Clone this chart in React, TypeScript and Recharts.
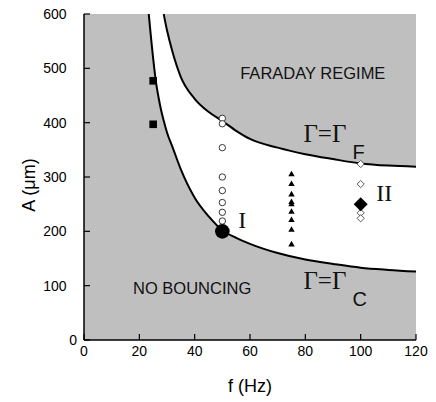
import {
  ComposedChart,
  XAxis,
  YAxis,
  CartesianGrid,
  Area,
  Line,
  Scatter,
  ReferenceDot,
  Label,
} from 'recharts'

// threshold curves (f in Hz, A in µm)
const freqs = [23.4, 25, 26, 27, 28, 28.8, 30, 32, 35, 40, 45, 50, 55, 60, 70, 80, 90, 100, 110, 120]
const bouncingThreshold = [600, 518, 475, 445, 420, 404, 382, 355, 314, 262, 228, 202, 188, 177, 160, 148, 140, 133, 129, 126]
const faradayThreshold = [null, null, null, null, null, 600, 570, 530, 484, 444, 420, 403, 385, 370, 354, 342, 333, 325, 321, 319]

const xTicks = [0, 20, 40, 60, 80, 100, 120]
const yTicks = [0, 100, 200, 300, 400, 500, 600]

// measured points
const squareA = [477, 397]
const circleA = [408, 398, 354, 300, 275, 253, 235, 219]
const triangleA = [306, 288, 269, 255, 251, 237, 222, 204, 177]
const diamondA = [324, 287, 234, 224]
const pointI = { f: 50, A: 200 }
const pointII = { f: 100, A: 250 }

const rows = freqs.map((f, i) => ({
  f,
  lower: bouncingThreshold[i],
  upper: faradayThreshold[i],
}))

const squares = squareA.map(A => ({ f: 25, A }))
const circles = circleA.map(A => ({ f: 50, A }))
const triangles = triangleA.map(A => ({ f: 75, A }))
const diamonds = diamondA.map(A => ({ f: 100, A }))

const SANS = '"Liberation Sans", Arial, Helvetica, sans-serif'
const SERIF = '"Liberation Serif", "Times New Roman", serif'
const TICK = 6

function BottomTick({ x, y, payload }: any) {
  return (
    <g>
      <line x1={x} x2={x} y1={y} y2={y - TICK} stroke="#000" strokeWidth={1.2} />
      <text x={x} y={y + 16} textAnchor="middle" fontSize={14} fontFamily={SANS} fill="#000">
        {payload.value}
      </text>
    </g>
  )
}

function LeftTick({ x, y, payload }: any) {
  // the original puts the lone "0" closer to the axis
  const gap = payload.value === 0 ? 7 : 17.5
  return (
    <g>
      <line x1={x} x2={x + TICK} y1={y} y2={y} stroke="#000" strokeWidth={1.2} />
      <text x={x - gap} y={y + 5} textAnchor="end" fontSize={14} fontFamily={SANS} fill="#000">
        {payload.value}
      </text>
    </g>
  )
}

function TopTick({ x, y }: any) {
  return <line x1={x} x2={x} y1={y} y2={y + TICK} stroke="#000" strokeWidth={1.2} />
}

function RightTick({ x, y }: any) {
  return <line x1={x} x2={x - TICK} y1={y} y2={y} stroke="#000" strokeWidth={1.2} />
}

const square = ({ cx, cy }: any) => (
  <rect x={cx - 3.8} y={cy - 3.8} width={7.6} height={7.6} fill="#000" />
)
const openCircle = ({ cx, cy }: any) => (
  <circle cx={cx} cy={cy} r={3.2} fill="#fff" stroke="#222" strokeWidth={0.9} />
)
const triangle = ({ cx, cy }: any) => (
  <path d={`M${cx - 3.2},${cy + 2.6}L${cx + 3.2},${cy + 2.6}L${cx},${cy - 3}Z`} fill="#000" />
)
const openDiamond = ({ cx, cy }: any) => (
  <path d={`M${cx},${cy - 3.6}L${cx + 3.6},${cy}L${cx},${cy + 3.6}L${cx - 3.6},${cy}Z`} fill="#fff" stroke="#333" strokeWidth={0.8} />
)
const bigDot = ({ cx, cy }: any) => <circle cx={cx} cy={cy} r={7.3} fill="#000" />
const bigDiamond = ({ cx, cy }: any) => (
  <path d={`M${cx},${cy - 7}L${cx + 7},${cy}L${cx},${cy + 7}L${cx - 7},${cy}Z`} fill="#000" />
)

const plainText = (txt: string) => ({ cx, cy }: any) => (
  <text x={cx} y={cy} textAnchor="middle" dominantBaseline="central" fontSize={16.5} fontFamily={SANS} fill="#111">
    {txt}
  </text>
)

const gammaText = (sub: string, dy: number) => ({ cx, cy }: any) => (
  <text x={cx} y={cy} fontSize={25} fontFamily={SERIF} fill="#111">
    Γ=Γ
    <tspan dx={6} dy={dy} fontSize={20} fontFamily={'"Liberation Sans Narrow", ' + SANS}>
      {sub}
    </tspan>
  </text>
)

const romanText = (txt: string) => ({ cx, cy }: any) => (
  <text x={cx} y={cy} textAnchor="middle" fontSize={24} fontFamily={SERIF} fill="#111">
    {txt}
  </text>
)

const yLabel = () => (
  <text transform="translate(35,185) rotate(-90)" textAnchor="middle" fontSize={18} fontFamily={SANS} fill="#000">
    A (μm)
  </text>
)

export default function App() {
  return (
    <div style={{ position: 'absolute', left: 0, top: 0, width: 436, height: 402, background: '#fff' }}>
      <ComposedChart
        width={436}
        height={402}
        data={rows}
        margin={{ top: 14, right: 20, left: 0, bottom: 0 }}
      >
        <CartesianGrid horizontal={false} vertical={false} fill="#bfbfbf" fillOpacity={1} />
        <XAxis
          dataKey="f"
          type="number"
          domain={[0, 120]}
          ticks={xTicks}
          interval={0}
          height={62}
          tickSize={0}
          tickMargin={0}
          tickLine={false}
          axisLine={{ stroke: '#000', strokeWidth: 1.5 }}
          tick={<BottomTick />}
        >
          <Label value="f (Hz)" position="insideBottom" offset={10.5} fontSize={18} fontFamily={SANS} fill="#000" />
        </XAxis>
        <XAxis
          xAxisId="top"
          orientation="top"
          dataKey="f"
          type="number"
          domain={[0, 120]}
          ticks={xTicks}
          interval={0}
          height={0}
          tickSize={0}
          tickMargin={0}
          tickLine={false}
          axisLine={{ stroke: '#000', strokeWidth: 1.5 }}
          tick={<TopTick />}
        />
        <YAxis
          type="number"
          domain={[0, 600]}
          ticks={yTicks}
          interval={0}
          width={84}
          tickSize={0}
          tickMargin={0}
          tickLine={false}
          axisLine={{ stroke: '#000', strokeWidth: 1.5 }}
          tick={<LeftTick />}
          label={{ content: yLabel }}
        />
        <YAxis
          yAxisId="right"
          orientation="right"
          type="number"
          domain={[0, 600]}
          ticks={yTicks}
          interval={0}
          width={0}
          tickSize={0}
          tickMargin={0}
          tickLine={false}
          axisLine={{ stroke: '#000', strokeWidth: 1.5 }}
          tick={<RightTick />}
        />
        <Area
          type="monotone"
          dataKey={(d: any) => [d.lower, d.upper ?? 600]}
          fill="#fff"
          fillOpacity={1}
          stroke="none"
          isAnimationActive={false}
        />
        <Line type="monotone" dataKey="lower" stroke="#000" strokeWidth={2} dot={false} isAnimationActive={false} />
        <Line type="monotone" dataKey="upper" stroke="#000" strokeWidth={2} dot={false} connectNulls={false} isAnimationActive={false} />
        <Scatter data={squares} dataKey="A" shape={square} isAnimationActive={false} />
        <Scatter data={circles} dataKey="A" shape={openCircle} isAnimationActive={false} />
        <Scatter data={triangles} dataKey="A" shape={triangle} isAnimationActive={false} />
        <Scatter data={diamonds} dataKey="A" shape={openDiamond} isAnimationActive={false} />
        <Scatter data={[pointI]} dataKey="A" shape={bigDot} isAnimationActive={false} />
        <Scatter data={[pointII]} dataKey="A" shape={bigDiamond} isAnimationActive={false} />
        <ReferenceDot x={82.7} y={492} r={0} shape={plainText('FARADAY REGIME')} />
        <ReferenceDot x={39.1} y={95} r={0} shape={plainText('NO BOUNCING')} />
        <ReferenceDot x={79.3} y={365} r={0} shape={gammaText('F', 17.5)} />
        <ReferenceDot x={79.3} y={93} r={0} shape={gammaText('C', 16.3)} />
        <ReferenceDot x={57.2} y={206} r={0} shape={romanText('I')} />
        <ReferenceDot x={108.5} y={256} r={0} shape={romanText('II')} />
      </ComposedChart>
    </div>
  )
}
